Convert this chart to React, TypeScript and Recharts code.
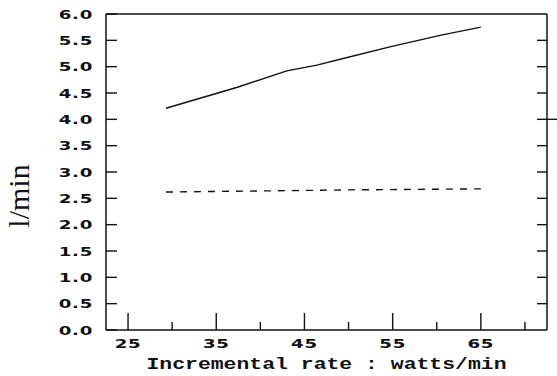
import { LineChart, Line, XAxis, YAxis } from "recharts";

const solidRate = [29.3, 37.4, 43, 46.4, 49.5, 54.8, 60.5, 65];
const solidFlow = [4.21, 4.61, 4.92, 5.03, 5.16, 5.38, 5.6, 5.75];
const dashedRate = [29.3, 40, 50, 65];
const dashedFlow = [2.62, 2.64, 2.66, 2.68];

const xTicks = [25, 30, 35, 40, 45, 50, 55, 60, 65, 70];
const xLabelled = [25, 35, 45, 55, 65];
const yTicks = [0, 0.5, 1, 1.5, 2, 2.5, 3, 3.5, 4, 4.5, 5, 5.5, 6];

const solidData = solidRate.map((x, i) => ({ x, y: solidFlow[i] }));
const dashedData = dashedRate.map((x, i) => ({ x, y: dashedFlow[i] }));

const tickFont = {
  fontFamily: "DejaVu Sans",
  fontWeight: 700,
  fontSize: 13,
  fill: "#111",
  letterSpacing: 0.5,
};

function BottomTick(props: any) {
  const { x, y, payload } = props;
  const major = xLabelled.includes(payload.value);
  const len = major ? 17 : 8;
  return (
    <g>
      <rect x={x - 0.7} y={y - len} width={1.4} height={len} fill="#111" />
      {major && (
        <g transform={`translate(${x},${y + 18}) scale(1.4,1)`}>
          <text x={0} y={0} textAnchor="middle" {...tickFont}>
            {payload.value}
          </text>
        </g>
      )}
    </g>
  );
}

function TopTick(props: any) {
  const { x, y, payload } = props;
  const len = xLabelled.includes(payload.value) ? 16 : 8;
  return <rect x={x - 0.7} y={y} width={1.4} height={len} fill="#111" />;
}

function LeftTick(props: any) {
  const { x, y, payload } = props;
  return (
    <g>
      <rect x={x} y={y - 0.7} width={11} height={1.4} fill="#111" />
      <g transform={`translate(${x - 13},${y + 4.5}) scale(1.4,1)`}>
        <text x={0} y={0} textAnchor="end" {...tickFont}>
          {payload.value.toFixed(1)}
        </text>
      </g>
    </g>
  );
}

function RightTick(props: any) {
  const { x, y, payload } = props;
  const out = payload.value === 4 ? 10 : 0;
  return <rect x={x - 10} y={y - 0.7} width={10 + out} height={1.4} fill="#111" />;
}

function XTitle(props: any) {
  const { viewBox } = props;
  const cx = viewBox.x + viewBox.width / 2;
  return (
    <g transform={`translate(${cx},369) scale(1.34,1)`}>
      <text
        x={0}
        y={0}
        textAnchor="middle"
        fontFamily="Liberation Mono"
        fontWeight={700}
        fontSize={16}
        fill="#111"
      >
        Incremental rate : watts/min
      </text>
    </g>
  );
}

function YTitle() {
  return (
    <text
      x={0}
      y={0}
      transform="translate(29,196) rotate(-90)"
      textAnchor="middle"
      fontFamily="Liberation Serif"
      fontSize={30}
      fill="#111"
    >
      l/min
    </text>
  );
}

export default function App() {
  return (
    <div style={{ position: "absolute", left: 0, top: 0, background: "#fff" }}>
      <LineChart width={557} height={376} margin={{ top: 0, right: 0, bottom: 0, left: 0 }}>
        <XAxis
          type="number"
          dataKey="x"
          domain={[22.5, 72.5]}
          ticks={xTicks}
          interval={0}
          height={46}
          tickSize={0}
          tickMargin={0}
          tickLine={false}
          tick={<BottomTick />}
          axisLine={{ stroke: "#111", strokeWidth: 1.5 }}
          allowDataOverflow
          label={<XTitle />}
        />
        <XAxis
          xAxisId="top"
          orientation="top"
          type="number"
          domain={[22.5, 72.5]}
          ticks={xTicks}
          interval={0}
          height={14}
          tickSize={0}
          tickMargin={0}
          tickLine={false}
          tick={<TopTick />}
          axisLine={{ stroke: "#111", strokeWidth: 1.5 }}
          allowDataOverflow
        />
        <YAxis
          type="number"
          domain={[0, 6]}
          ticks={yTicks}
          interval={0}
          width={106}
          tickSize={0}
          tickMargin={0}
          tickLine={false}
          tick={<LeftTick />}
          axisLine={{ stroke: "#111", strokeWidth: 1.5 }}
          allowDataOverflow
          label={<YTitle />}
        />
        <YAxis
          yAxisId="right"
          orientation="right"
          type="number"
          domain={[0, 6]}
          ticks={yTicks.slice(1, -1)}
          interval={0}
          width={10}
          tickSize={0}
          tickMargin={0}
          tickLine={false}
          tick={<RightTick />}
          axisLine={{ stroke: "#111", strokeWidth: 1.5 }}
          allowDataOverflow
        />
        <Line
          data={solidData}
          dataKey="y"
          type="linear"
          stroke="#111"
          strokeWidth={1.4}
          dot={false}
          isAnimationActive={false}
        />
        <Line
          data={dashedData}
          dataKey="y"
          type="linear"
          stroke="#111"
          strokeWidth={1.4}
          strokeDasharray="7 7"
          dot={false}
          isAnimationActive={false}
        />
      </LineChart>
    </div>
  );
}
